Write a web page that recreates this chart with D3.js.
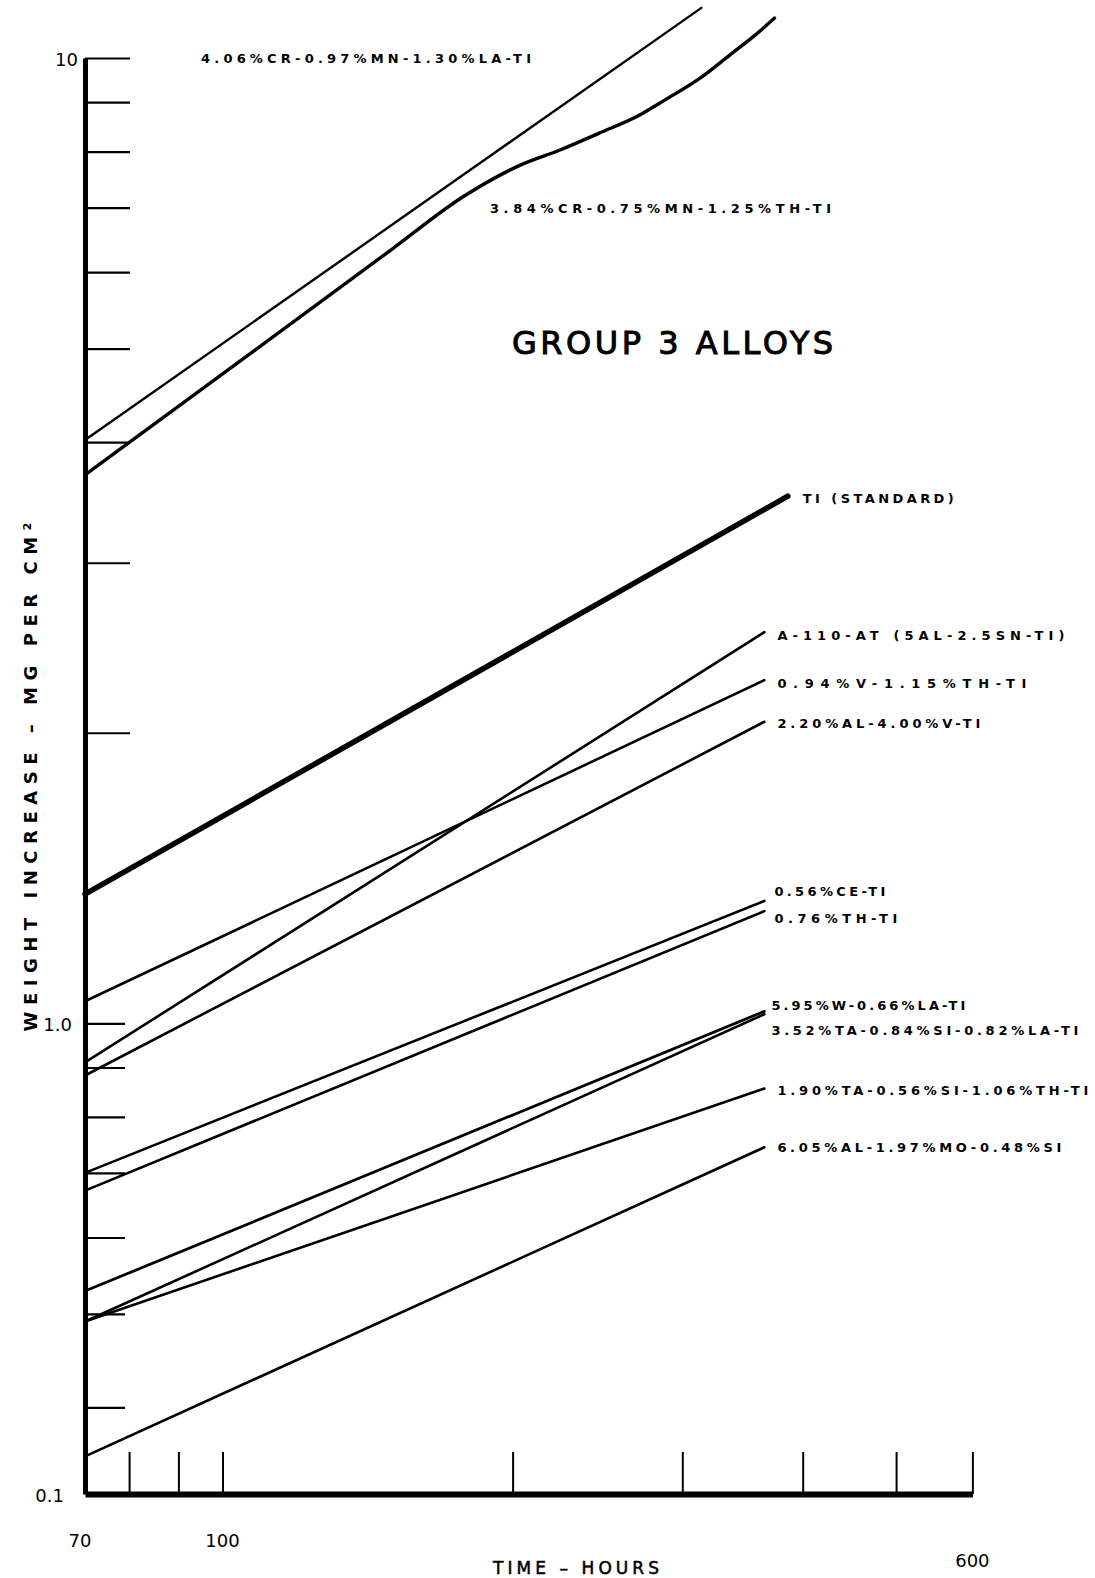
<!DOCTYPE html>
<html>
<head>
<meta charset="utf-8">
<script src="https://cdn.jsdelivr.net/npm/d3@7"></script>
<style>
  html, body { margin: 0; padding: 0; background: #fff; }
  svg { display: block; }
  text { font-family: "DejaVu Sans", sans-serif; fill: #000; }
</style>
</head>
<body>
<svg id="chart" width="1095" height="1578"></svg>
<script>
// Oxidation weight gain of Group 3 titanium alloys, log-log.
const seriesNames = [
  "4.06%CR-0.97%MN-1.30%LA-TI",
  "3.84%CR-0.75%MN-1.25%TH-TI",
  "TI (STANDARD)",
  "A-110-AT (5AL-2.5SN-TI)",
  "0.94%V-1.15%TH-TI",
  "2.20%AL-4.00%V-TI",
  "0.56%CE-TI",
  "0.76%TH-TI",
  "5.95%W-0.66%LA-TI",
  "3.52%TA-0.84%SI-0.82%LA-TI",
  "1.90%TA-0.56%SI-1.06%TH-TI",
  "6.05%AL-1.97%MO-0.48%SI"
];

// time, hours
const seriesHours = [
  [72, 314],
  [72, 120, 150, 178, 204, 224, 246, 271, 288, 313, 336, 357, 374],
  [72, 386],
  [72, 365],
  [72, 365],
  [72, 365],
  [72, 365],
  [72, 365],
  [72, 365],
  [72, 365],
  [72, 365],
  [72, 365]
];

// weight increase, mg per cm^2
const seriesWeight = [
  [4.02, 11.27],
  [3.70, 5.38, 6.34, 7.19, 7.75, 8.03, 8.36, 8.73, 9.05, 9.53, 10.07, 10.56, 11.0],
  [1.361, 3.516],
  [0.911, 2.542],
  [1.054, 2.267],
  [0.883, 2.053],
  [0.700, 1.339],
  [0.671, 1.307],
  [0.528, 1.029],
  [0.491, 1.022],
  [0.491, 0.856],
  [0.356, 0.744]
];

// axis extents and ticks
const hoursRange = [72, 600];
const weightRange = [0.3254, 10];
const xTickValues = [80, 90, 100, 200, 300, 400, 500, 600];
const xLabelValues = [72, 100, 600];
const xLabelText = ["70", "100", "600"];
const yTickValues = [0.4, 0.5, 0.6, 0.7, 0.8, 0.9, 1, 2, 3, 4, 5, 6, 7, 8, 9, 10];
const yLabelValues = [10, 1, 0.3254];
const yLabelText = ["10", "1.0", "0.1"];

const svg = d3.select("#chart");

const x = d3.scaleLog().domain(hoursRange).range([85, 972.4]);
const y = d3.scaleLog().domain(weightRange).range([1494, 58]);

// ---- axes ----
const yAxis = d3.axisLeft(y)
  .tickValues(yTickValues)
  .tickSize(0)
  .tickSizeOuter(0)
  .tickFormat("");
const gy = svg.append("g").attr("transform", "translate(85,0)").call(yAxis);
gy.select(".domain").attr("stroke", "#000").attr("stroke-width", 5);
gy.selectAll(".tick line")
  .attr("x2", d => d > 1 ? 45 : 40)
  .attr("stroke", "#000")
  .attr("stroke-width", 2.2);

const xAxis = d3.axisBottom(x)
  .tickValues(xTickValues)
  .tickSize(-42)
  .tickSizeOuter(0)
  .tickFormat("");
const gx = svg.append("g").attr("transform", "translate(0,1494)").call(xAxis);
gx.select(".domain").attr("stroke", "#000").attr("stroke-width", 6);
gx.selectAll(".tick line").attr("stroke", "#000").attr("stroke-width", 2);

// axis numerals
const xLabelDy = [1540, 1540, 1560];
svg.append("g").selectAll("text")
  .data(xLabelValues)
  .join("text")
  .attr("x", (d, i) => x(d) - (i === 0 ? 5 : 0))
  .attr("y", (d, i) => xLabelDy[i])
  .attr("text-anchor", "middle")
  .attr("dominant-baseline", "central")
  .attr("font-size", 18)
  .text((d, i) => xLabelText[i]);

const yLabelX = [78, 72, 64];
svg.append("g").selectAll("text")
  .data(yLabelValues)
  .join("text")
  .attr("x", (d, i) => yLabelX[i])
  .attr("y", d => y(d) + 1)
  .attr("text-anchor", "end")
  .attr("dominant-baseline", "central")
  .attr("font-size", 18)
  .text((d, i) => yLabelText[i]);

// axis titles
svg.append("text")
  .attr("transform", "translate(30,777) rotate(-90)")
  .attr("text-anchor", "middle")
  .attr("dominant-baseline", "central")
  .attr("font-size", 18)
  .attr("font-weight", "bold")
  .attr("textLength", 509)
  .attr("lengthAdjust", "spacing")
  .text("WEIGHT INCREASE \u2013 MG PER CM\u00B2");

svg.append("text")
  .attr("x", 576).attr("y", 1568)
  .attr("text-anchor", "middle")
  .attr("dominant-baseline", "central")
  .attr("font-size", 17)
  .attr("textLength", 166)
  .attr("lengthAdjust", "spacing")
  .attr("stroke", "#000").attr("stroke-width", 0.5)
  .text("TIME \u2013 HOURS");

svg.append("text")
  .attr("x", 512).attr("y", 343)
  .attr("dominant-baseline", "central")
  .attr("font-size", 32)
  .attr("textLength", 321)
  .attr("lengthAdjust", "spacing")
  .attr("stroke", "#000").attr("stroke-width", 1)
  .text("GROUP 3 ALLOYS");

// ---- curves ----
const lineWidths = [2.4, 3.4, 5.5, 2.6, 2.6, 2.6, 2.6, 2.6, 2.8, 2.6, 2.6, 2.6];
const line = d3.line()
  .x(d => x(d[0]))
  .y(d => y(d[1]))
  .curve(d3.curveMonotoneX);

svg.append("g").selectAll("path")
  .data(seriesNames.map((n, i) => seriesHours[i].map((h, j) => [h, seriesWeight[i][j]])))
  .join("path")
  .attr("d", line)
  .attr("fill", "none")
  .attr("stroke", "#000")
  .attr("stroke-width", (d, i) => lineWidths[i])
  .attr("stroke-linecap", "round")
  .attr("stroke-linejoin", "round");

// ---- curve labels ----
// offset from the end of each curve (first two are placed freely)
const labelPlace = [
  { px: 201, py: 58, w: 330 },
  { px: 490, py: 208, w: 341 },
  { dx: 15, dy: 2, w: 151 },
  { dx: 13, dy: 3, w: 287 },
  { dx: 13, dy: 3, w: 249 },
  { dx: 13, dy: 1.5, w: 203 },
  { dx: 10, dy: -9, w: 111 },
  { dx: 10, dy: 7, w: 123 },
  { dx: 7, dy: -6, w: 194 },
  { dx: 7, dy: 16, w: 307 },
  { dx: 13, dy: 2, w: 311 },
  { dx: 13, dy: 0, w: 284 }
];

svg.append("g").selectAll("text")
  .data(seriesNames)
  .join("text")
  .attr("x", (d, i) => {
    const p = labelPlace[i];
    if (p.px !== undefined) return p.px;
    const hs = seriesHours[i];
    return x(hs[hs.length - 1]) + p.dx;
  })
  .attr("y", (d, i) => {
    const p = labelPlace[i];
    if (p.py !== undefined) return p.py;
    const ws = seriesWeight[i];
    return y(ws[ws.length - 1]) + p.dy;
  })
  .attr("dominant-baseline", "central")
  .attr("font-size", 13)
  .attr("font-weight", "bold")
  .attr("textLength", (d, i) => labelPlace[i].w)
  .attr("lengthAdjust", "spacing")
  .text(d => d);
</script>
</body>
</html>
